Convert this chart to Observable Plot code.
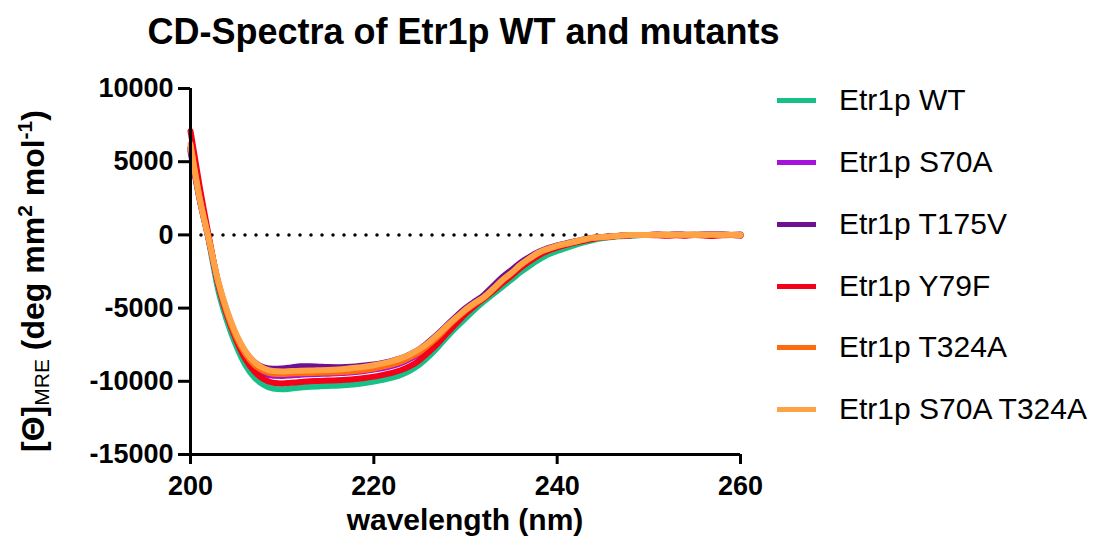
<!DOCTYPE html>
<html>
<head>
<meta charset="utf-8">
<script src="https://cdn.jsdelivr.net/npm/d3@7"></script>
<script src="https://cdn.jsdelivr.net/npm/@observablehq/plot@0.6"></script>
<style>
  body { margin: 0; background: #fff; }
  #wrap { position: relative; width: 1093px; height: 539px; font-family: "Liberation Sans", Arial, sans-serif; color: #000; overflow: hidden; }
  #chart { position: absolute; left: 0; top: 0; }
  .title { position: absolute; left: 0; width: 927px; top: 14px; text-align: center; font-size: 36px; line-height: 36px; font-weight: bold; white-space: nowrap; }
  .xlabel { position: absolute; left: 0; width: 930px; top: 505px; text-align: center; font-size: 30px; line-height: 30px; font-weight: bold; white-space: nowrap; }
  .ylabel { position: absolute; left: 33px; top: 281px; transform: translate(-50%, -50%) rotate(-90deg); font-size: 32px; line-height: 32px; font-weight: bold; white-space: nowrap; }
  .ylabel .sub { font-size: 21px; font-weight: normal; vertical-align: -5px; }
  .ylabel .sup { font-size: 21px; vertical-align: 12px; }
  .legend-row { position: absolute; left: 777px; height: 30px; display: flex; align-items: center; font-size: 30px; line-height: 30px; white-space: nowrap; }
  .swatch { display: inline-block; width: 39px; height: 5px; margin-right: 23px; }
</style>
</head>
<body>
<div id="wrap">
  <div id="chart"></div>
  <div class="title">CD-Spectra of Etr1p WT and mutants</div>
  <div class="xlabel">wavelength (nm)</div>
  <div class="ylabel">[Θ]<span class="sub">MRE</span> (deg mm<span class="sup">2</span> mol<span class="sup">-1</span>)</div>
  <div id="legend"></div>
</div>
<script>
const wavelengths = [200,201,202,203,204,205,206,207,208,209,210,211,212,213,214,215,216,217,218,219,220,221,222,223,224,225,226,227,228,229,230,231,232,233,234,235,236,237,238,239,240,241,242,243,244,245,246,247,248,249,250,251,252,253,254,255,256,257,258,259,260];

const seriesNames = ["Etr1p WT", "Etr1p S70A", "Etr1p T175V", "Etr1p Y79F", "Etr1p T324A", "Etr1p S70A T324A"];
const seriesColors = ["#16C088", "#A711DD", "#700F8F", "#F40018", "#FF6A0C", "#FFA245"];

const wt = [5900,2800,-400,-3700,-5900,-7600,-8900,-9750,-10250,-10500,-10550,-10500,-10420,-10380,-10350,-10320,-10300,-10250,-10200,-10120,-10020,-9900,-9750,-9550,-9250,-8850,-8300,-7650,-6950,-6300,-5700,-5100,-4550,-4050,-3550,-3050,-2550,-2100,-1700,-1350,-1100,-880,-680,-500,-340,-220,-140,-90,-50,-20,0,-10,10,0,-20,10,0,-10,10,0,-20];
const s70a = [5900,2500,-350,-3300,-5500,-7100,-8300,-9050,-9450,-9620,-9630,-9600,-9550,-9520,-9500,-9480,-9450,-9420,-9370,-9300,-9200,-9100,-8950,-8750,-8450,-8100,-7600,-7050,-6400,-5800,-5250,-4750,-4300,-3750,-3150,-2650,-2100,-1650,-1250,-980,-780,-620,-470,-320,-210,-150,-100,-50,-20,0,0,10,-10,20,0,-10,10,0,20,-10,0];
const t175v = [5700,2400,-300,-3200,-5300,-6900,-8000,-8700,-9050,-9150,-9120,-9050,-8980,-8970,-9000,-9030,-9040,-9020,-8980,-8920,-8850,-8740,-8600,-8420,-8150,-7800,-7300,-6750,-6150,-5550,-5000,-4550,-4100,-3500,-2900,-2400,-1900,-1500,-1150,-900,-720,-570,-430,-300,-200,-140,-90,-50,-20,0,0,20,0,30,10,0,20,40,10,0,20];
const y79f = [7100,3300,-100,-3300,-5500,-7200,-8500,-9350,-9850,-10100,-10150,-10100,-10050,-10000,-9980,-9950,-9930,-9900,-9850,-9780,-9680,-9560,-9420,-9230,-8950,-8550,-8000,-7400,-6700,-6050,-5400,-4850,-4350,-3850,-3300,-2800,-2250,-1800,-1400,-1080,-860,-680,-520,-380,-260,-170,-110,-60,-30,-10,0,-30,-60,-20,-50,-10,-40,-70,-30,-10,-50];
const t324a = [6000,2500,-300,-3200,-5350,-7000,-8150,-8900,-9300,-9480,-9500,-9470,-9450,-9430,-9420,-9400,-9380,-9350,-9300,-9230,-9130,-9000,-8850,-8650,-8350,-8000,-7500,-6950,-6300,-5700,-5150,-4700,-4280,-3720,-3120,-2620,-2070,-1620,-1220,-960,-760,-610,-460,-310,-200,-150,-100,-50,-10,0,0,0,10,-10,0,20,0,-10,10,0,-10];
const s70aT324a = [6200,2500,-300,-3100,-5200,-6800,-7950,-8700,-9120,-9300,-9330,-9300,-9280,-9260,-9250,-9230,-9200,-9150,-9080,-9000,-8900,-8780,-8620,-8420,-8150,-7800,-7350,-6800,-6200,-5650,-5100,-4650,-4250,-3700,-3100,-2600,-2050,-1600,-1200,-950,-750,-600,-450,-300,-200,-150,-100,-50,0,0,0,10,0,20,10,0,10,20,0,10,0];

const xTicks = [200, 220, 240, 260];
const yTicks = [-15000, -10000, -5000, 0, 5000, 10000];

const seriesValues = [wt, s70a, t175v, y79f, t324a, s70aT324a];
const rows = [];
seriesNames.forEach((name, i) => {
  wavelengths.forEach((w, j) => rows.push({series: name, nm: w, value: seriesValues[i][j]}));
});

const chart = Plot.plot({
  width: 1093,
  height: 539,
  marginLeft: 190,
  marginRight: 353,
  marginTop: 88,
  marginBottom: 85,
  style: {fontFamily: '"Liberation Sans", Arial, sans-serif', fontSize: "27px", fontWeight: "bold", color: "#000", background: "transparent", overflow: "visible"},
  x: {domain: [200, 260]},
  y: {domain: [-15000, 10000]},
  color: {domain: seriesNames, range: seriesColors},
  marks: [
    Plot.ruleY([0], {stroke: "#000", strokeWidth: 3.5, strokeDasharray: "0,11", strokeLinecap: "round"}),
    Plot.line(rows, {x: "nm", y: "value", z: "series", stroke: "series", strokeWidth: 6, curve: "monotone-x", strokeLinejoin: "round"}),
    Plot.axisX({ticks: xTicks, tickSize: 10, tickPadding: 11, tickFormat: d => String(d), label: null, fontSize: 27, fontWeight: "bold", strokeWidth: 3}),
    Plot.axisY({ticks: yTicks, tickSize: 12, tickPadding: 5, tickFormat: d => String(d), label: null, fontSize: 27, fontWeight: "bold", strokeWidth: 3}),
    Plot.ruleX([200], {stroke: "#000", strokeWidth: 3}),
    Plot.ruleY([-15000], {stroke: "#000", strokeWidth: 3})
  ]
});
document.getElementById("chart").appendChild(chart);

const legendCenters = [100, 162, 224, 286, 347, 409];
const legend = document.getElementById("legend");
seriesNames.forEach((name, i) => {
  const row = document.createElement("div");
  row.className = "legend-row";
  row.style.top = (legendCenters[i] - 15) + "px";
  const sw = document.createElement("span");
  sw.className = "swatch";
  sw.style.background = seriesColors[i];
  const tx = document.createElement("span");
  tx.textContent = name;
  row.appendChild(sw);
  row.appendChild(tx);
  legend.appendChild(row);
});
</script>
</body>
</html>
